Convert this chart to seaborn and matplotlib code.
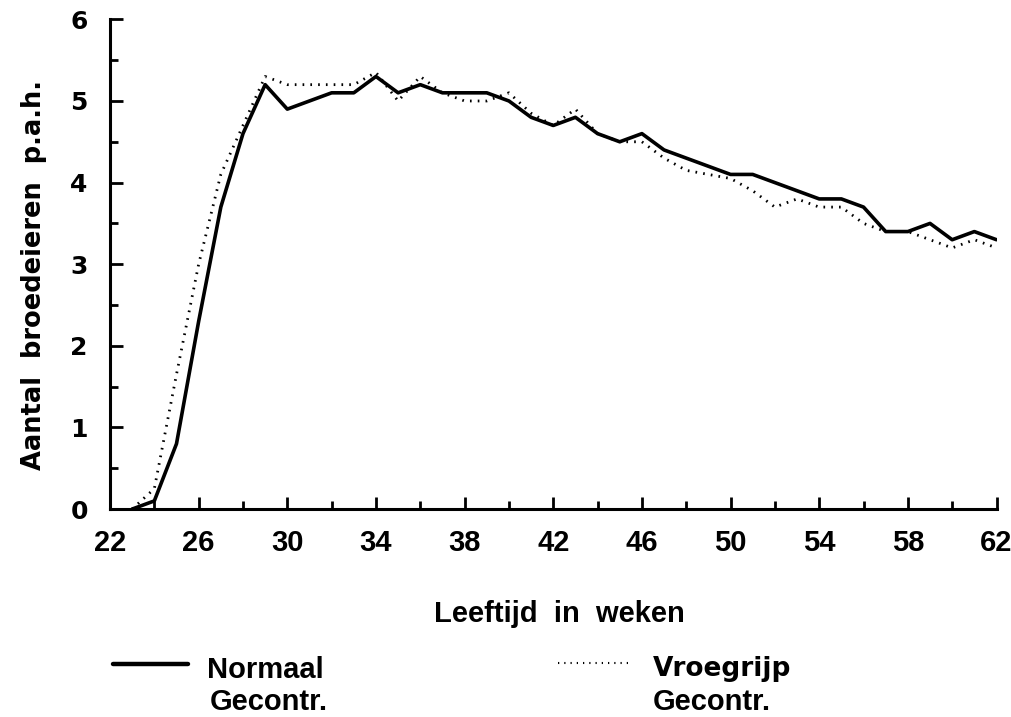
import numpy as np
import pandas as pd
import matplotlib.pyplot as plt
import seaborn as sns
from matplotlib.lines import Line2D
from matplotlib.ticker import MultipleLocator

sns.set_style("ticks")
plt.rcParams['font.family'] = ['Liberation Sans', 'DejaVu Sans']
plt.rcParams['text.color'] = 'black'
plt.rcParams['axes.labelcolor'] = 'black'
plt.rcParams['xtick.color'] = 'black'
plt.rcParams['ytick.color'] = 'black'
plt.rcParams['axes.edgecolor'] = 'black'

# leeftijd in weken
weeks = list(range(23, 63))
normaal = [0.0, 0.1, 0.8, 2.3, 3.7, 4.6, 5.2,
           4.9, 5.0, 5.1, 5.1, 5.3, 5.1,
           5.2, 5.1, 5.1, 5.1, 5.0, 4.8, 4.7, 4.8, 4.6, 4.5, 4.6,
           4.4, 4.3, 4.2, 4.1, 4.1, 4.0, 3.9, 3.8, 3.8, 3.7, 3.4, 3.4, 3.5, 3.3, 3.4, 3.3]
vroegrijp = [0.0, 0.25, 1.65, 3.0, 4.1, 4.7, 5.3,
             5.2, 5.2, 5.2, 5.2, 5.35, 5.0,
             5.3, 5.1, 5.0, 5.0, 5.1, 4.85, 4.7, 4.9, 4.6, 4.5, 4.5,
             4.3, 4.15, 4.1, 4.05, 3.9, 3.7, 3.8, 3.7, 3.7, 3.5, 3.4, 3.4, 3.3, 3.2, 3.3, 3.2]

df = pd.DataFrame({
    "week": weeks * 2,
    "eieren": normaal + vroegrijp,
    "groep": ["Normaal"] * len(weeks) + ["Vroegrijp"] * len(weeks),
})

fig = plt.figure(figsize=(10.12, 7.17), dpi=100)
ax = fig.add_axes([0.1087, 0.29, 0.876, 0.683])

sns.lineplot(data=df[df.groep == "Normaal"], x="week", y="eieren", color="black",
             linewidth=2.6, ax=ax, legend=False)
sns.lineplot(data=df[df.groep == "Vroegrijp"], x="week", y="eieren", color="black",
             linewidth=2.0, linestyle=(0, (0.6, 2.2)), ax=ax, legend=False)

ax.set_xlim(22, 62)
ax.set_ylim(0, 6)
ax.set_xticks(range(22, 63, 4))
ax.xaxis.set_minor_locator(MultipleLocator(2))
ax.yaxis.set_major_locator(MultipleLocator(1))
ax.yaxis.set_minor_locator(MultipleLocator(0.5))
sns.despine(ax=ax)
for s in ["left", "bottom"]:
    ax.spines[s].set_linewidth(2.2)

ax.tick_params(which="major", direction="in", length=9, width=2)
ax.tick_params(which="minor", direction="in", length=6, width=2)
ax.tick_params(axis="x", which="major", pad=14, labelsize=21)
ax.tick_params(axis="y", which="major", pad=16, labelsize=18)
for lab in ax.get_xticklabels():
    lab.set_fontweight("bold")
for lab in ax.get_yticklabels():
    lab.set_fontweight("bold")
    lab.set_family(["DejaVu Sans"])

ax.set_xlabel("Leeftijd  in  weken", fontsize=21, fontweight="bold")
ax.xaxis.set_label_coords(0.507, -0.186)
ax.set_ylabel("Aantal  broedeieren  p.a.h.", fontsize=18.5, fontweight="bold",
              family=["DejaVu Sans"])
ax.yaxis.set_label_coords(-0.071, 0.478)

# legenda onderaan
fig.add_artist(Line2D([0.1117, 0.1858], [0.0739, 0.0739], color="black", linewidth=3.2))
fig.text(0.2045, 0.0545, "Normaal", fontsize=21, fontweight="bold", va="baseline")
fig.text(0.2075, 0.0095, "Gecontr.", fontsize=21, fontweight="bold", va="baseline")
fig.add_artist(Line2D([0.5514, 0.6206], [0.0753, 0.0753], color="black", linewidth=1.5,
                      linestyle=(0, (0.6, 2.4))))
fig.text(0.6453, 0.0575, "Vroegrijp", fontsize=19, fontweight="bold", va="baseline",
         family=["DejaVu Sans"])
fig.text(0.6453, 0.0095, "Gecontr.", fontsize=21, fontweight="bold", va="baseline")

fig.savefig("out.png", dpi=100)
